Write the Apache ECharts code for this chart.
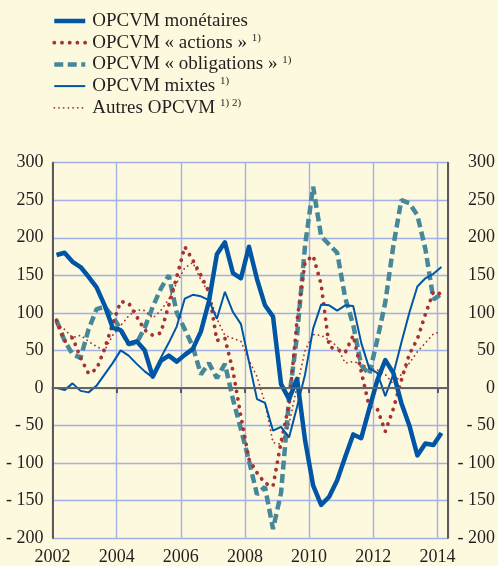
<!DOCTYPE html>
<html>
<head>
<meta charset="utf-8">
<script src="https://cdn.jsdelivr.net/npm/echarts@6/dist/echarts.min.js"></script>
<style>
html, body { margin: 0; padding: 0; background: #fdf9df; }
#main { width: 498px; height: 566px; }
</style>
</head>
<body>
<div id="main"></div>
<script>
// trimestres (milieu de trimestre sur l'axe)
var quarters = [
  '2002T1','2002T2','2002T3','2002T4','2003T1','2003T2','2003T3','2003T4',
  '2004T1','2004T2','2004T3','2004T4','2005T1','2005T2','2005T3','2005T4',
  '2006T1','2006T2','2006T3','2006T4','2007T1','2007T2','2007T3','2007T4',
  '2008T1','2008T2','2008T3','2008T4','2009T1','2009T2','2009T3','2009T4',
  '2010T1','2010T2','2010T3','2010T4','2011T1','2011T2','2011T3','2011T4',
  '2012T1','2012T2','2012T3','2012T4','2013T1','2013T2','2013T3','2013T4',
  '2014T1'
];

var monetaires = [177,180,168,161,148,134,110,80,77,59,62,50,15,36,43,35,44,52,75,115,178,194,153,146,188,145,110,95,5,-15,12,-70,-130,-156,-145,-123,-92,-62,-67,-28,10,37,20,-20,-50,-90,-74,-76,-60];
var actions = [90,62,67,40,19,25,52,85,115,113,95,77,70,73,110,148,188,170,150,128,63,66,23,-38,-95,-113,-127,-131,-72,-22,90,168,176,138,55,51,47,70,22,-25,-28,-58,-28,10,45,65,98,128,125];
var obligations = [90,63,45,40,78,105,108,95,78,58,60,80,108,132,150,100,78,55,18,33,13,32,-15,-55,-97,-142,-132,-188,-140,-15,70,190,268,202,191,180,120,84,30,18,64,114,189,250,246,230,185,118,125];
var mixtes = [0,-3,6,-4,-6,3,18,33,50,43,32,22,14,40,60,82,119,124,122,117,92,128,101,85,35,-15,-20,-57,-52,-66,-25,18,79,111,110,103,110,109,60,26,20,-11,18,60,100,135,146,152,161];
var autres = [85,78,67,70,62,55,50,70,83,96,104,103,93,103,118,140,160,167,144,126,92,70,66,62,37,15,-20,-73,-75,-48,2,50,71,70,64,55,33,35,32,26,24,18,5,18,33,48,60,72,75];

var yTicks = [-200,-150,-100,-50,0,50,100,150,200,250,300];

var serif = '"Liberation Serif", "Times New Roman", serif';
var bleu = '#0055a5', rouge = '#a83232', sarcelle = '#46879a';

// notes en exposant dans la légende
var notes = {
  'OPCVM monétaires': '',
  'OPCVM « actions »': '1)',
  'OPCVM « obligations »': '1)',
  'OPCVM mixtes': '1)',
  'Autres OPCVM': '1) 2)'
};

function toXY(values){
  return values.map(function(v, i){
    var q = quarters[i];
    var x = +q.slice(0, 4) + (+q.slice(5) - 0.5) / 4;
    return [x, v];
  });
}

function fmtY(v){
  return v < 0 ? '- ' + (-v) : '' + v;
}

var chart = echarts.init(document.getElementById('main'));

chart.setOption({
  animation: false,
  backgroundColor: '#fdf9df',
  grid: { left: 52.5, right: 46, top: 162.7, bottom: 24.3, containLabel: false },
  legend: {
    orient: 'vertical',
    left: 52, top: 11,
    padding: 0,
    itemWidth: 31, itemHeight: 14, itemGap: 1.7,
    data: ['OPCVM monétaires', 'OPCVM « actions »', 'OPCVM « obligations »', 'OPCVM mixtes', 'Autres OPCVM'],
    formatter: function(name){
      return notes[name] ? name + ' {s|' + notes[name] + '}' : name;
    },
    itemStyle: { opacity: 0 },
    lineStyle: { width: 'inherit' },
    textStyle: {
      fontFamily: serif, fontSize: 19, color: '#231f20', lineHeight: 20,
      padding: [0, 0, 0, 2],
      rich: { s: { fontFamily: serif, fontSize: 11, color: '#231f20', verticalAlign: 'top', lineHeight: 12 } }
    }
  },
  xAxis: {
    type: 'value',
    min: 2002, max: 2014.33, interval: 2,
    axisLine: { lineStyle: { color: '#5a5a5a', width: 2 } },
    axisTick: { show: true, length: 5, lineStyle: { color: '#5a5a5a', width: 2 } },
    axisLabel: {
      margin: 10, fontFamily: serif, fontSize: 18, color: '#231f20',
      formatter: function(v){ return v % 2 === 0 ? '' + v : ''; }
    },
    splitLine: { show: true, lineStyle: { color: '#a3b1e6', width: 1.4 } }
  },
  yAxis: [{
    type: 'value', position: 'left',
    min: yTicks[0], max: yTicks[yTicks.length - 1], interval: 50,
    axisLine: { show: true, lineStyle: { color: '#5a5a5a', width: 2 } },
    axisTick: { show: false },
    axisLabel: { margin: 9, fontFamily: serif, fontSize: 18, color: '#231f20', formatter: fmtY },
    splitLine: { show: true, lineStyle: { color: '#a3b1e6', width: 1.4 } }
  }, {
    type: 'value', position: 'right',
    min: yTicks[0], max: yTicks[yTicks.length - 1], interval: 50,
    axisLine: { show: true, lineStyle: { color: '#5a5a5a', width: 2 } },
    axisTick: { show: false },
    axisLabel: { margin: 47, align: 'right', fontFamily: serif, fontSize: 18, color: '#231f20', formatter: fmtY },
    splitLine: { show: false }
  }],
  series: [{
    name: 'OPCVM « obligations »', type: 'line', symbol: 'none',
    data: toXY(obligations),
    lineStyle: { color: sarcelle, width: 4.5, type: [9, 4.5] },
    itemStyle: { color: sarcelle },
    markLine: {
      silent: true, symbol: 'none', label: { show: false },
      lineStyle: { color: '#6a6a6a', width: 1.6, type: 'solid' },
      data: [{ yAxis: 0 }]
    }
  }, {
    name: 'Autres OPCVM', type: 'line', symbol: 'none',
    data: toXY(autres),
    lineStyle: { color: rouge, width: 1.8, type: [0.1, 4.6], cap: 'round' },
    itemStyle: { color: rouge }
  }, {
    name: 'OPCVM « actions »', type: 'line', symbol: 'none',
    data: toXY(actions),
    lineStyle: { color: rouge, width: 3.8, type: [0.1, 7.6], cap: 'round' },
    itemStyle: { color: rouge }
  }, {
    name: 'OPCVM mixtes', type: 'line', symbol: 'none',
    data: toXY(mixtes),
    lineStyle: { color: bleu, width: 2 },
    itemStyle: { color: bleu }
  }, {
    name: 'OPCVM monétaires', type: 'line', symbol: 'none',
    data: toXY(monetaires),
    lineStyle: { color: bleu, width: 4.5, join: 'round' },
    itemStyle: { color: bleu }
  }]
});
</script>
</body>
</html>
